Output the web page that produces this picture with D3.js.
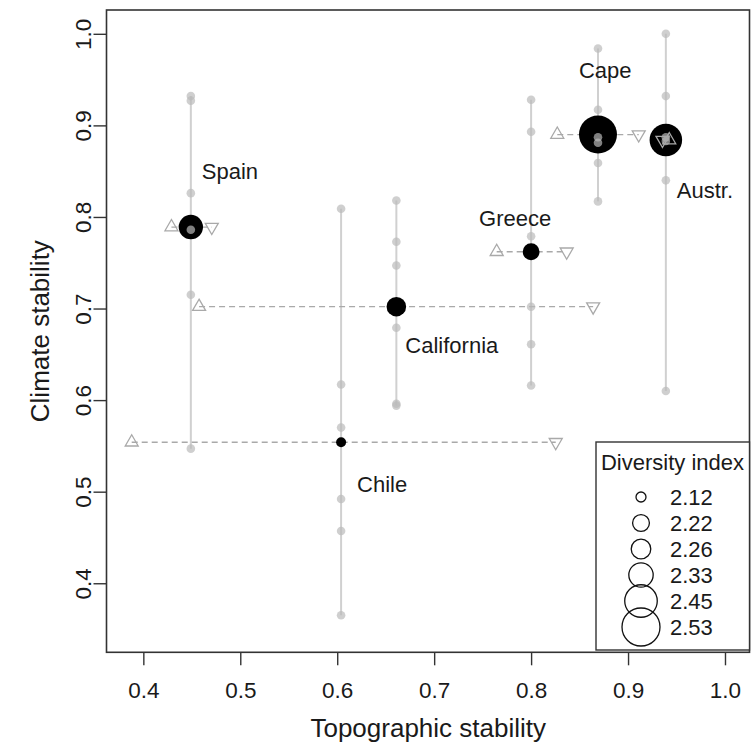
<!DOCTYPE html>
<html>
<head>
<meta charset="utf-8">
<script src="https://cdn.jsdelivr.net/npm/d3@7/dist/d3.min.js"></script>
<style>
  html, body { margin: 0; padding: 0; background: #fff; }
  svg { display: block; font-family: "Liberation Sans", Arial, sans-serif; }
</style>
</head>
<body>
<svg id="chart" width="751" height="750"></svg>
<script>
// Mediterranean-climate regions
const regions = ["Spain", "California", "Chile", "Greece", "Cape", "Austr."];
// Mean topographic and climate stability per region
const topoMean = [0.449, 0.661, 0.604, 0.800, 0.869, 0.939];
const climateMean = [0.789, 0.702, 0.554, 0.762, 0.890, 0.884];
// Range of topographic stability (lower end: up-triangle, upper end: down-triangle)
const topoLow = [0.429, 0.4575, 0.388, 0.7645, 0.827, 0.9425];
const topoHigh = [0.4706, 0.864, 0.8254, 0.8367, 0.911, 0.9355];
// Diversity index per region (sets circle size)
const diversity = [2.33, 2.26, 2.12, 2.22, 2.53, 2.45];
// Individual climate-stability values per region
const climateSamples = [
  [0.932, 0.927, 0.826, 0.786, 0.715, 0.547],
  [0.818, 0.773, 0.747, 0.679, 0.596, 0.594],
  [0.809, 0.617, 0.570, 0.492, 0.457, 0.365],
  [0.928, 0.893, 0.779, 0.702, 0.661, 0.616],
  [0.984, 0.917, 0.887, 0.881, 0.859, 0.817],
  [1.000, 0.932, 0.887, 0.883, 0.840, 0.610]
];
const xTicks = [0.4, 0.5, 0.6, 0.7, 0.8, 0.9, 1.0];
const yTicks = [0.4, 0.5, 0.6, 0.7, 0.8, 0.9, 1.0];

// Layout
const frame = { left: 106.5, right: 749.5, top: 10, bottom: 652.3 };
const xLim = [0.362, 1.0258];
const yLim = [0.3246, 1.026];
const labelOffset = {
  "Spain": [11, -56], "California": [9, 39], "Chile": [16, 42],
  "Greece": [-52, -33], "Cape": [-19, -64], "Austr.": [11, 50]
};

const svg = d3.select("#chart");
const x = d3.scaleLinear().domain(xLim).range([frame.left, 750]);
const y = d3.scaleLinear().domain(yLim).range([frame.bottom, frame.top]);
const r = d3.scaleLinear().domain([2.12, 2.53]).range([5, 19]);

const rows = regions.map((name, i) => ({
  name, tx: topoMean[i], cy: climateMean[i], lo: topoLow[i], hi: topoHigh[i],
  div: diversity[i], samples: climateSamples[i]
}));

const textColor = "#1a1a1a";

// Axes (R-style: outward ticks, no domain line; frame drawn separately)
const xAxis = svg.append("g")
  .attr("transform", `translate(0,${frame.bottom})`)
  .call(d3.axisBottom(x).tickValues(xTicks).tickFormat(d3.format(".1f")).tickSize(13).tickPadding(17));
const yAxis = svg.append("g")
  .attr("transform", `translate(${frame.left},0)`)
  .call(d3.axisLeft(y).tickValues(yTicks).tickFormat(d3.format(".1f")).tickSize(13));
[xAxis, yAxis].forEach(g => {
  g.select(".domain").remove();
  g.selectAll(".tick line").attr("stroke", "#333").attr("stroke-width", 1.4);
  g.selectAll(".tick text").attr("fill", textColor).style("font-size", "22.5px")
    .style("font-family", "'Liberation Sans', Arial, sans-serif");
});
yAxis.selectAll(".tick text")
  .attr("transform", "rotate(-90)")
  .attr("x", 0).attr("y", -16).attr("dy", 0)
  .attr("text-anchor", "middle");

// Axis titles
svg.append("text")
  .attr("x", (frame.left + 750) / 2).attr("y", 728)
  .attr("text-anchor", "middle").attr("dominant-baseline", "central")
  .attr("fill", textColor).style("font-size", "26px")
  .text("Topographic stability");
svg.append("text")
  .attr("transform", `translate(40,${(frame.top + frame.bottom) / 2}) rotate(-90)`)
  .attr("text-anchor", "middle").attr("dominant-baseline", "central")
  .attr("fill", textColor).style("font-size", "26px")
  .text("Climate stability");

const plot = svg.append("g");

// Vertical ranges of climate stability
plot.selectAll("line.vr").data(rows).join("line")
  .attr("class", "vr")
  .attr("x1", d => x(d.tx)).attr("x2", d => x(d.tx))
  .attr("y1", d => y(d3.max(d.samples))).attr("y2", d => y(d3.min(d.samples)))
  .attr("stroke", "#d0d0d0").attr("stroke-width", 2);

// Dashed ranges of topographic stability
plot.selectAll("line.hr").data(rows).join("line")
  .attr("class", "hr")
  .attr("x1", d => x(d.lo)).attr("x2", d => x(d.hi))
  .attr("y1", d => y(d.cy)).attr("y2", d => y(d.cy))
  .attr("stroke", "#a9a9a9").attr("stroke-width", 1.3)
  .attr("stroke-dasharray", "6,4");

// Region means sized by diversity index
plot.selectAll("circle.mean").data(rows).join("circle")
  .attr("class", "mean")
  .attr("cx", d => x(d.tx)).attr("cy", d => y(d.cy))
  .attr("r", d => r(d.div)).attr("fill", "#000");

// Individual climate values
const pts = rows.flatMap(d => d.samples.map(v => ({ tx: d.tx, v })));
plot.selectAll("circle.pt").data(pts).join("circle")
  .attr("class", "pt")
  .attr("cx", d => x(d.tx)).attr("cy", d => y(d.v))
  .attr("r", 4.3).attr("fill", "rgb(186,186,186)").attr("fill-opacity", 0.69);

// Triangle end markers (circumcentre on the point, like R pch 2 / 6)
const tr = 7.5;
const triUp = `M0,${-tr}L${tr * 0.866},${tr / 2}L${-tr * 0.866},${tr / 2}Z`;
const triDown = `M0,${tr}L${tr * 0.866},${-tr / 2}L${-tr * 0.866},${-tr / 2}Z`;
plot.selectAll("path.lo").data(rows).join("path")
  .attr("class", "lo")
  .attr("transform", d => `translate(${x(d.lo)},${y(d.cy)})`)
  .attr("d", triUp).attr("fill", "none").attr("stroke", "#a9a9a9").attr("stroke-width", 1.3);
plot.selectAll("path.hi").data(rows).join("path")
  .attr("class", "hi")
  .attr("transform", d => `translate(${x(d.hi)},${y(d.cy)})`)
  .attr("d", triDown).attr("fill", "none").attr("stroke", "#a9a9a9").attr("stroke-width", 1.3);

// Region names
plot.selectAll("text.name").data(rows).join("text")
  .attr("class", "name")
  .attr("x", d => x(d.tx) + labelOffset[d.name][0])
  .attr("y", d => y(d.cy) + labelOffset[d.name][1])
  .attr("dominant-baseline", "central")
  .attr("fill", textColor).style("font-size", "22px")
  .text(d => d.name);

// Plot frame
svg.append("rect")
  .attr("x", frame.left).attr("y", frame.top)
  .attr("width", frame.right - frame.left).attr("height", frame.bottom - frame.top)
  .attr("fill", "none").attr("stroke", "#333").attr("stroke-width", 1.6);

// Legend
const legendValues = diversity.slice().sort(d3.ascending);
const legend = svg.append("g");
legend.append("rect")
  .attr("x", 596).attr("y", 442).attr("width", 153.5).attr("height", 208)
  .attr("fill", "#fff").attr("stroke", "#333").attr("stroke-width", 1.4);
legend.append("text")
  .attr("x", 672.5).attr("y", 462)
  .attr("text-anchor", "middle").attr("dominant-baseline", "central")
  .attr("fill", textColor).style("font-size", "22px")
  .text("Diversity index");
const ly = d3.scalePoint().domain(legendValues).range([497, 627]);
legend.selectAll("circle").data(legendValues).join("circle")
  .attr("cx", 641).attr("cy", d => ly(d)).attr("r", d => r(d))
  .attr("fill", "none").attr("stroke", "#111").attr("stroke-width", 1.3);
legend.selectAll("text.lv").data(legendValues).join("text")
  .attr("class", "lv")
  .attr("x", 670).attr("y", d => ly(d))
  .attr("dominant-baseline", "central")
  .attr("fill", textColor).style("font-size", "22px")
  .text(d => d.toFixed(2));
</script>
</body>
</html>
